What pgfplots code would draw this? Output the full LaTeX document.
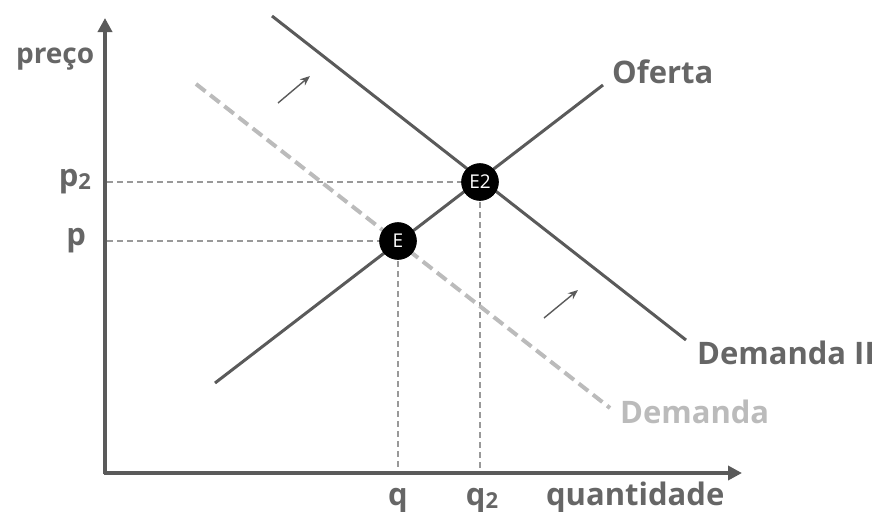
\documentclass[border=0pt]{standalone}
\usepackage{fontspec}
\setmainfont{Open Sans}
\usepackage{pgfplots}
\pgfplotsset{compat=1.18}
\usetikzlibrary{arrows.meta}
\definecolor{lin}{HTML}{5A5A5A}
\definecolor{txt}{HTML}{666666}
\definecolor{dem}{HTML}{BBBBBB}
\definecolor{guide}{HTML}{999999}
\newcommand{\lbl}{\fontsize{15.5}{17}\selectfont\bfseries}
\newcommand{\sub}[1]{\raisebox{-1.5pt}{\fontsize{11}{11}\selectfont #1}}
% coordinates in pixels of the reference, y measured upward
\begin{document}
\begin{tikzpicture}
\begin{axis}[
    width=438.5pt, height=255.5pt, scale only axis,
    xmin=0, xmax=877, ymin=0, ymax=511,
    hide axis, clip=false
]
% guides
\addplot[guide, line width=1pt, dash pattern=on 3pt off 2pt] coordinates {(107,329) (480,329)};
\addplot[guide, line width=1pt, dash pattern=on 3pt off 2pt] coordinates {(107,270) (398,270)};
\addplot[guide, line width=1pt, dash pattern=on 3pt off 2pt] coordinates {(398,270) (398,38)};
\addplot[guide, line width=1pt, dash pattern=on 3pt off 2pt] coordinates {(480,329) (480,38)};
% demanda (original)
\addplot[dem, line width=2pt, dash pattern=on 6pt off 3pt] coordinates {(196,427) (610,103)};
% demanda II
\addplot[lin, line width=1.5pt] coordinates {(272,495) (686,171)};
% oferta
\addplot[lin, line width=1.5pt] coordinates {(215,128) (603,426)};
% shift arrows
\addplot[lin, line width=0.7pt, -{Stealth[length=5pt,width=4pt]}] coordinates {(278,408) (310,435)};
\addplot[lin, line width=0.7pt, -{Stealth[length=5pt,width=4pt]}] coordinates {(544,193) (578,221)};
% axes
\addplot[lin, line width=2pt, -{Triangle[length=7pt,width=7pt]}] coordinates {(105,37) (105,493)};
\addplot[lin, line width=2pt, -{Triangle[length=7pt,width=7pt]}] coordinates {(104,38) (742,38)};
% equilibria
\addplot[black, only marks, mark=*, mark size=9.2pt,
    nodes near coords, point meta=explicit symbolic,
    every node near coord/.style={anchor=center, white, font=\fontsize{9.5}{10}\selectfont}]
    coordinates {(398,270) [E] (480,329) [E2]};
% labels
\node[txt, anchor=west, font=\fontsize{14}{16}\selectfont\bfseries] at (axis cs:9,452) {preço};
\node[txt, anchor=east, font=\lbl] at (axis cs:98,329) {p\sub{2}};
\node[txt, anchor=east, font=\lbl] at (axis cs:93,270) {p};
\node[txt, anchor=base, font=\lbl] at (axis cs:398,6) {q};
\node[txt, anchor=base, font=\lbl] at (axis cs:482,6) {q\sub{2}};
\node[txt, anchor=base west, font=\lbl] at (axis cs:539,6) {quantidade};
\node[txt, anchor=west, font=\lbl] at (axis cs:605,439) {Oferta};
\node[txt, anchor=west, font=\lbl] at (axis cs:690,158) {Demanda II};
\node[dem, anchor=west, font=\lbl] at (axis cs:613,99) {Demanda};
\end{axis}
\pgfresetboundingbox
\path (0,0) rectangle (438.5pt,255.5pt);
\end{tikzpicture}
\end{document}
